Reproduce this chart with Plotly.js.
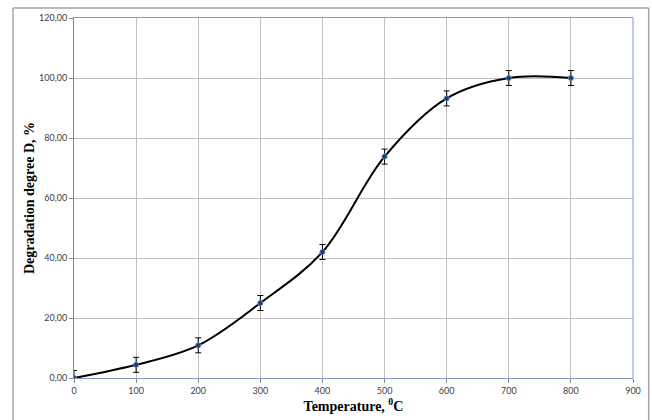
<!DOCTYPE html>
<html>
<head>
<meta charset="utf-8">
<script src="https://cdn.plot.ly/plotly-3.0.1.min.js"></script>
<style>
html,body{margin:0;padding:0;background:#fff;}
#chart{width:652px;height:420px;}
</style>
</head>
<body>
<div id="chart"></div>
<script>
var temperature = [0, 100, 200, 300, 400, 500, 600, 700, 800];
var degradation = [0.0, 4.4, 10.9, 25.0, 42.0, 73.8, 93.2, 100.0, 100.0];
var errorValue = [2.5, 2.5, 2.5, 2.5, 2.5, 2.5, 2.5, 2.5, 2.5];
var xTicks = [0, 100, 200, 300, 400, 500, 600, 700, 800, 900];
var yTicks = [0, 20, 40, 60, 80, 100, 120];

var trace = {
  x: temperature,
  y: degradation,
  type: 'scatter',
  mode: 'lines+markers',
  line: {color: '#000000', width: 2, shape: 'spline', smoothing: 1},
  marker: {size: 5, color: '#1f3864', line: {color: '#4f81bd', width: 1}},
  error_y: {type: 'data', array: errorValue, visible: true, color: '#000000', thickness: 1, width: 3},
  hoverinfo: 'x+y'
};

var L = 74, R = 633.3, T = 18, B = 378;
function px(xp){ return (xp - L) / (R - L); }
function py(yp){ return (B - yp) / (B - T); }

var titleFont = {family: '"Liberation Serif", "Times New Roman", serif', size: 14, color: '#000000', weight: 'bold'};

var layout = {
  width: 652, height: 420,
  margin: {l: L, r: 652 - R, t: T, b: 420 - B},
  paper_bgcolor: '#ffffff',
  plot_bgcolor: '#ffffff',
  separators: ', ',
  showlegend: false,
  xaxis: {
    range: [0, 900],
    tickvals: xTicks,
    ticktext: xTicks.map(String),
    showgrid: true, gridcolor: '#c0c0c0', gridwidth: 1,
    zeroline: false,
    showline: true, linecolor: '#7f9cc6', linewidth: 1, mirror: true,
    ticks: 'outside', ticklen: 4, tickcolor: '#868686',
    tickfont: {family: 'Lato, "Open Sans", sans-serif', size: 9, color: '#404040'},
    title: {text: '<b>Temperature, <sup>0</sup>C</b>', font: titleFont, standoff: 6}
  },
  yaxis: {
    range: [0, 120],
    tickvals: yTicks,
    tickformat: '.2f',
    showgrid: true, gridcolor: '#c0c0c0', gridwidth: 1,
    zeroline: false,
    showline: true, linecolor: '#868686', linewidth: 1,
    ticks: 'outside', ticklen: 4, tickcolor: '#868686',
    tickfont: {family: 'Lato, "Open Sans", sans-serif', size: 9, color: '#404040'},
    title: {text: '<b>Degradation degree D, %</b>', font: titleFont, standoff: 1}
  },
  shapes: [
    {type: 'line', xref: 'paper', yref: 'paper', x0: 1, x1: 1, y0: 0, y1: 1, line: {color: '#7f9cc6', width: 1}},
    {type: 'line', xref: 'paper', yref: 'paper', x0: px(13), x1: px(13), y0: py(425), y1: py(8), line: {color: '#a6a6a6', width: 1.5}, layer: 'above'},
    {type: 'line', xref: 'paper', yref: 'paper', x0: px(13), x1: px(649), y0: py(8), y1: py(8), line: {color: '#a6a6a6', width: 1.5}, layer: 'above'},
    {type: 'line', xref: 'paper', yref: 'paper', x0: px(649), x1: px(649), y0: py(425), y1: py(8), line: {color: '#a6a6a6', width: 1.5}, layer: 'above'}
  ]
};

Plotly.newPlot('chart', [trace], layout, {displayModeBar: false, staticPlot: true});
</script>
</body>
</html>
